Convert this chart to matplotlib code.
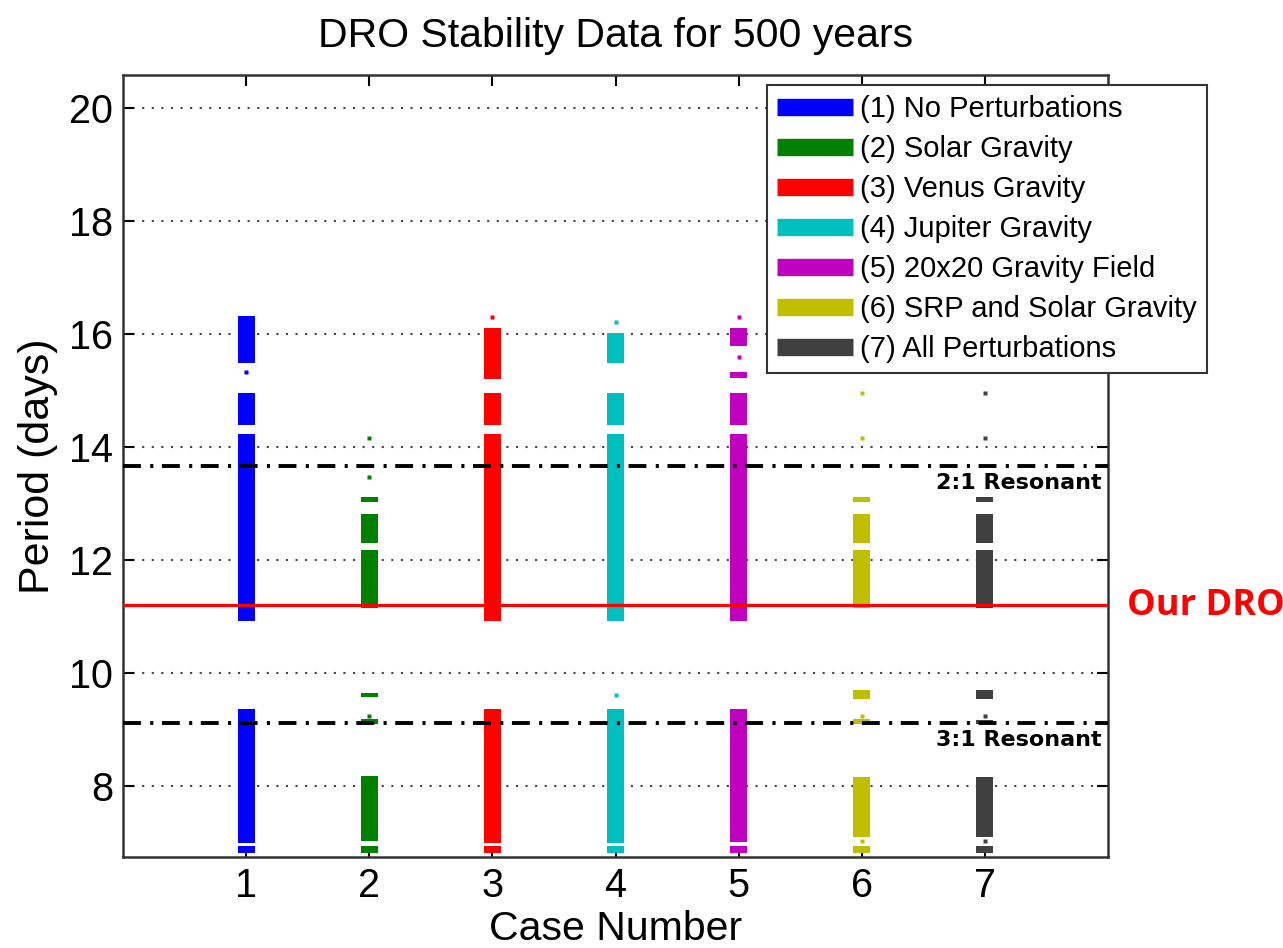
import matplotlib
matplotlib.use("Agg")
import matplotlib.pyplot as plt
from matplotlib.lines import Line2D

plt.rcParams['font.family'] = ['Liberation Sans', 'DejaVu Sans']

# stable period bands (lo, hi) in days, per case
case_ids = [1, 2, 3, 4, 5, 6, 7]
case1_segs = [(15.49, 16.32), (14.38, 14.96), (10.92, 14.23), (6.99, 9.35), (6.80, 6.93)]
case2_segs = [(13.03, 13.12), (12.29, 12.81), (11.14, 12.18), (9.57, 9.65), (9.09, 9.18), (7.02, 8.18), (6.81, 6.93)]
case3_segs = [(15.21, 16.11), (14.38, 14.96), (10.92, 14.23), (6.99, 9.35), (6.80, 6.93)]
case4_segs = [(15.49, 16.01), (14.38, 14.96), (10.92, 14.23), (6.99, 9.35), (6.80, 6.93)]
case5_segs = [(15.79, 16.11), (15.22, 15.33), (14.38, 14.96), (10.92, 14.23), (7.00, 9.35), (6.80, 6.93)]
case6_segs = [(13.03, 13.11), (12.29, 12.81), (11.14, 12.18), (9.53, 9.70), (9.09, 9.18), (7.09, 8.15), (6.81, 6.93)]
case7_segs = [(13.03, 13.11), (12.29, 12.81), (11.14, 12.18), (9.53, 9.70), (9.10, 9.16), (7.09, 8.15), (6.81, 6.93)]

# isolated stable points
case1_dots = [15.33]
case2_dots = [14.15, 13.47, 9.24]
case3_dots = [16.31]
case4_dots = [16.21, 9.61]
case5_dots = [16.31, 15.59]
case6_dots = [14.96, 14.15, 9.24, 7.02]
case7_dots = [14.96, 14.15, 9.24, 7.02]

labels = ["(1) No Perturbations", "(2) Solar Gravity", "(3) Venus Gravity",
          "(4) Jupiter Gravity", "(5) 20x20 Gravity Field",
          "(6) SRP and Solar Gravity", "(7) All Perturbations"]
colors = ["#0000ff", "#007f00", "#ff0000", "#00bfbf", "#bf00bf", "#bfbf00", "#404040"]

resonant_21 = 13.66
resonant_31 = 9.107
our_dro = 11.20

all_segs = [case1_segs, case2_segs, case3_segs, case4_segs, case5_segs, case6_segs, case7_segs]
all_dots = [case1_dots, case2_dots, case3_dots, case4_dots, case5_dots, case6_dots, case7_dots]

fig = plt.figure(figsize=(12.83, 9.48), dpi=100)
ax = fig.add_axes([0.0959, 0.096, 0.7677, 0.825])

for case, segs, dots, c in zip(case_ids, all_segs, all_dots, colors):
  lo = [s[0] for s in segs]
  h = [s[1] - s[0] for s in segs]
  ax.bar([case]*len(segs), h, bottom=lo, width=0.14, color=c, zorder=3)
  ax.plot([case]*len(dots), dots, 's', ms=2.2, color=c, mec='none', zorder=3)

ax.axhline(our_dro, color='red', lw=2.3, zorder=4)
ax.axhline(resonant_21, color='black', lw=2.8, ls=(0, (4.6, 2.4, 0.8, 2.2)), zorder=4)
ax.axhline(resonant_31, color='black', lw=2.8, ls=(0, (4.6, 2.4, 0.8, 2.2)), zorder=4)

ax.text(7.95, resonant_21 - 0.12, "2:1 Resonant", ha='right', va='top',
        fontsize=16, fontweight='bold', family='DejaVu Sans', zorder=5)
ax.text(7.95, resonant_31 - 0.12, "3:1 Resonant", ha='right', va='top',
        fontsize=16, fontweight='bold', family='DejaVu Sans', zorder=5)
fig.text(1127/1283, 1 - 606/948, "Our DRO", color='red', ha='left', va='center',
         fontsize=26, fontweight='bold', family='Open Sans')

ax.set_xlim(0, 8)
ax.set_ylim(6.737, 20.59)
ax.set_xticks(case_ids)
ax.set_yticks([8, 10, 12, 14, 16, 18, 20])
ax.yaxis.grid(True, ls=(0, (1, 3.6)), lw=1.5, color='#444444')
ax.tick_params(direction='in', length=8, width=1.5, top=True, right=True,
               labelsize=28.5, pad=7)
for sp in ax.spines.values():
  sp.set_linewidth(1.8)
  sp.set_color('#333333')

ax.set_xlabel("Case Number", fontsize=29.5, labelpad=4)
ax.set_ylabel("Period (days)", fontsize=31, labelpad=8)
ax.set_title("DRO Stability Data for 500 years", fontsize=29.5, pad=20)

handles = [Line2D([], [], color=c, lw=12.5, solid_capstyle='butt') for c in colors]
leg = fig.legend(handles, labels, loc='upper left', bbox_to_anchor=(767/1283, 1 - 85/948),
                 fontsize=21, handlelength=2.6, handletextpad=0.25, labelspacing=0.41,
                 borderpad=0.35, borderaxespad=0, fancybox=False, framealpha=1,
                 edgecolor='#333333')
leg.get_frame().set_linewidth(1.5)

plt.savefig("out.png", dpi=100)
